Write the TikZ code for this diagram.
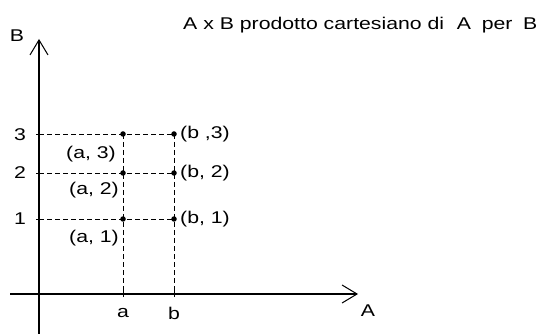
\documentclass[tikz,border=0pt]{standalone}
\usepackage{fontspec}
\setmainfont{Liberation Sans}
\usetikzlibrary{arrows.meta}
\newcommand{\wtxt}[1]{\scalebox{1.25}[1]{#1}}
\begin{document}
\begin{tikzpicture}[x=1pt,y=-1pt,
  axis/.style={line width=1.3pt,-{Straight Barb[length=15pt,width=18pt,line width=1pt]}},
  grid/.style={line width=0.9pt,dash pattern=on 5pt off 3pt},
  lbl/.style={font=\fontsize{17}{19}\selectfont,inner sep=0pt},
  dot/.style={circle,fill=black,inner sep=0pt,minimum size=5.5pt}]
\useasboundingbox (0,0) rectangle (544,334);
\fill[white] (0,0) rectangle (544,334);
% axes
\coordinate (yb) at (39,334);
\coordinate (yt) at (39,39);
\coordinate (xl) at (10,294);
\coordinate (xr) at (358,294);
\draw[axis] (yb) -- (yt);
\draw[axis] (xl) -- (xr);
% tick positions
\coordinate (y3) at (39,134);
\coordinate (y2) at (39,173);
\coordinate (y1) at (39,219);
\coordinate (xa) at (123,294);
\coordinate (xb) at (174,294);
% points
\node[dot] (a3) at (123,134) {};
\node[dot] (a2) at (123,173) {};
\node[dot] (a1) at (123,219) {};
\node[dot] (b3) at (174,134) {};
\node[dot] (b2) at (174,173) {};
\node[dot] (b1) at (174,219) {};
% dashed lines
\draw[grid] (y3) -- (b3.center);
\draw[grid] (y2) -- (b2.center);
\draw[grid] (y1) -- (b1.center);
\draw[grid] (a3.center) -- (xa);
\draw[grid] (b3.center) -- (xb);
% tick marks
\foreach \c in {y1,y2,y3} \draw[line width=0.9pt] ([xshift=-3pt]\c) -- ([xshift=3pt]\c);
\foreach \c in {xa,xb} \draw[line width=0.9pt] ([yshift=-3pt]\c) -- ([yshift=3pt]\c);
% labels
\node[lbl] (lB) at (17,36) {\wtxt{B}};
\node[lbl] (lA) at (368,311) {\wtxt{A}};
\node[lbl] (l3) at (20,135) {\wtxt{3}};
\node[lbl] (l2) at (20,173) {\wtxt{2}};
\node[lbl] (l1) at (20,219) {\wtxt{1}};
\node[lbl] (la) at (123,313) {\wtxt{a}};
\node[lbl] (lb) at (174,313) {\wtxt{b}};
\node[lbl,anchor=east] (ta3) at (116,154) {\wtxt{(a, 3)}};
\node[lbl,anchor=east] (ta2) at (119,190) {\wtxt{(a, 2)}};
\node[lbl,anchor=east] (ta1) at (119,238) {\wtxt{(a, 1)}};
\node[lbl,anchor=west] (tb3) at (180,134) {\wtxt{(b ,3)}};
\node[lbl,anchor=west] (tb2) at (180,173) {\wtxt{(b, 2)}};
\node[lbl,anchor=west] (tb1) at (180,219) {\wtxt{(b, 1)}};
\node[lbl,anchor=west] (title) at (183,25) {\wtxt{A x B prodotto cartesiano di\hspace{0.6em}A\hspace{0.5em}per\hspace{0.5em}B}};
\end{tikzpicture}
\end{document}
